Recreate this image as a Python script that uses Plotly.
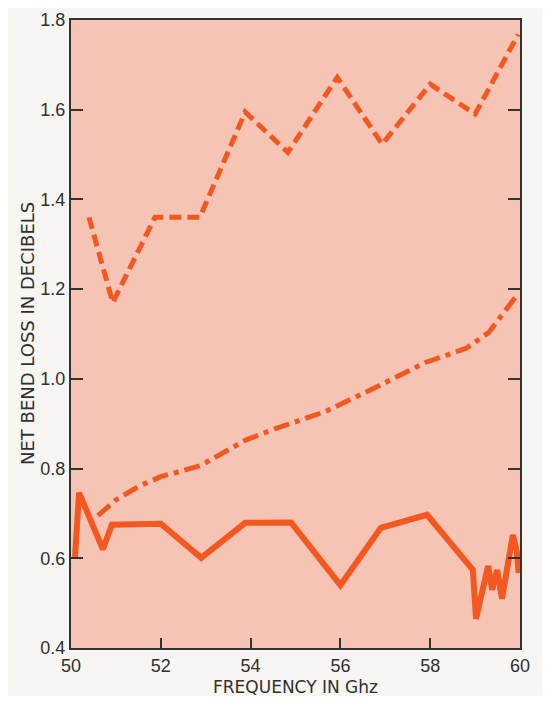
import plotly.graph_objects as go

# Upper dashed curve
dash_freq = [50.4, 50.93, 51.87, 52.87, 53.88, 54.83, 55.93, 56.93, 58.0, 59.0, 59.96]
dash_loss = [1.36, 1.17, 1.36, 1.36, 1.595, 1.505, 1.672, 1.523, 1.657, 1.59, 1.768]

# Middle dash-dot curve
dd_freq = [50.6, 51.0, 51.5, 52.0, 52.87, 53.9, 54.5, 55.66, 56.77, 57.88, 58.8, 59.3, 59.96]
dd_loss = [0.695, 0.73, 0.76, 0.782, 0.806, 0.864, 0.887, 0.927, 0.98, 1.036, 1.068, 1.103, 1.19]

# Lower solid curve
solid_freq = [50.09, 50.18, 50.71, 50.91, 52.0, 52.9, 53.88, 54.9, 56.0, 56.9, 57.93, 58.95,
              59.02, 59.29, 59.38, 59.49, 59.6, 59.73, 59.84, 59.93, 59.97]
solid_loss = [0.603, 0.746, 0.62, 0.675, 0.677, 0.601, 0.679, 0.68, 0.54, 0.668, 0.697, 0.574,
              0.465, 0.583, 0.53, 0.574, 0.51, 0.596, 0.652, 0.614, 0.567]

x_ticks = [50, 52, 54, 56, 58, 60]
y_ticks = [0.4, 0.6, 0.8, 1.0, 1.2, 1.4, 1.6, 1.8]
y_labels = ["0.4", "0.6", "0.8", "1.0", "1.2", "1.4", "1.6", "1.8"]

x_title = "FREQUENCY IN Ghz"
y_title = "NET BEND LOSS IN DECIBELS"

line_color = "#f25820"

fig = go.Figure()
fig.add_trace(go.Scatter(x=dash_freq, y=dash_loss, mode="lines",
                         line=dict(color=line_color, width=5, dash="12px,6px")))
fig.add_trace(go.Scatter(x=dd_freq, y=dd_loss, mode="lines",
                         line=dict(color=line_color, width=5, dash="16px,6px,5px,6px")))
fig.add_trace(go.Scatter(x=solid_freq, y=solid_loss, mode="lines",
                         line=dict(color=line_color, width=6)))

axis_font = dict(family="Liberation Sans, Arial, sans-serif", size=18, color="#303030")
xtitle_font = dict(family="DejaVu Sans, sans-serif", size=17, color="#303030")
ytitle_font = dict(family="DejaVu Sans, sans-serif", size=18, color="#303030")

# the page body adds an 8px margin around the figure
fig.update_layout(
    width=534, height=688,
    margin=dict(l=63, r=22, t=12, b=48),
    paper_bgcolor="#f7f6f3",
    plot_bgcolor="#f6c4b4",
    showlegend=False,
    xaxis=dict(
        range=[50, 60], tickvals=x_ticks, ticktext=[str(v) for v in x_ticks],
        ticks="inside", ticklen=10, tickwidth=2, tickcolor="#333",
        showline=True, linecolor="#333", linewidth=2, mirror=True,
        showgrid=False, zeroline=False, tickfont=axis_font, automargin=False,
    ),
    yaxis=dict(
        range=[0.4, 1.8], tickvals=y_ticks, ticktext=y_labels,
        ticks="inside", ticklen=12, tickwidth=2, tickcolor="#333",
        showline=True, linecolor="#333", linewidth=2, mirror="ticks",
        showgrid=False, zeroline=False, tickfont=axis_font, automargin=False,
    ),
    annotations=[
        dict(text=x_title, xref="paper", yref="paper", x=0.5, y=0,
             xanchor="center", yanchor="middle", yshift=-39,
             showarrow=False, font=xtitle_font),
        dict(text=y_title, xref="paper", yref="paper", x=0, y=0.5,
             xanchor="center", yanchor="middle", xshift=-44, textangle=-90,
             showarrow=False, font=ytitle_font),
    ],
)

fig.write_html("out.html")
